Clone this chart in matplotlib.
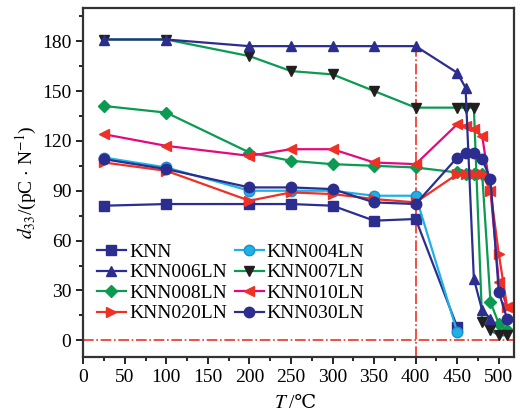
import matplotlib
matplotlib.use('Agg')
import matplotlib.pyplot as plt
from matplotlib.ticker import MultipleLocator

plt.rcParams['font.family'] = ['Liberation Serif', 'DejaVu Serif', 'Noto Sans CJK SC']
plt.rcParams['mathtext.fontset'] = 'stix'

# temperature (C) and d33 (pC/N) per composition
t_knn = [25, 100, 200, 250, 300, 350, 400, 450]
d_knn = [81, 82, 82, 82, 81, 72, 73, 8]

t_004 = [25, 100, 200, 250, 300, 350, 400, 450]
d_004 = [110, 104, 90, 90, 90, 87, 87, 5]

t_006 = [25, 100, 200, 250, 300, 350, 400, 450, 460, 470, 480, 490]
d_006 = [181, 181, 177, 177, 177, 177, 177, 161, 152, 37, 18, 13]

t_007 = [25, 100, 200, 250, 300, 350, 400, 450, 460, 470, 480, 490, 500, 510]
d_007 = [181, 181, 171, 162, 160, 150, 140, 140, 140, 140, 11, 6, 3, 3]

t_008 = [25, 100, 200, 250, 300, 350, 400, 450, 460, 470, 480, 490, 500, 510]
d_008 = [141, 137, 113, 108, 106, 105, 104, 101, 100, 100, 100, 23, 10, 6]

t_010 = [25, 100, 200, 250, 300, 350, 400, 450, 460, 470, 480, 490, 500, 510]
d_010 = [124, 117, 111, 115, 115, 107, 106, 130, 129, 127, 123, 90, 35, 20]

t_020 = [25, 100, 200, 250, 300, 350, 400, 450, 460, 470, 480, 490, 500, 510]
d_020 = [107, 102, 84, 89, 88, 85, 83, 100, 100, 100, 100, 90, 52, 20]

t_030 = [25, 100, 200, 250, 300, 350, 400, 450, 460, 470, 480, 490, 500, 510]
d_030 = [109, 103, 92, 92, 91, 83, 82, 110, 113, 113, 109, 97, 29, 13]

navy = '#2b2e8e'
cyan = '#1fb1e6'
green = '#0a9a52'
pink = '#e5097f'
red = '#ee3124'

fig = plt.figure(figsize=(5.2, 4.17), dpi=100)
ax = fig.add_axes([0.16, 0.144, 0.828, 0.837])

ax.axhline(0, color=red, ls='-.', lw=1.2)
ax.plot([400, 400], [-10, 177], color=red, ls='-.', lw=1.2)

kw = dict(lw=1.6, ms=7.5)
h_knn, = ax.plot(t_knn, d_knn, '-s', color=navy, label='KNN', **kw)
h_004, = ax.plot(t_004, d_004, '-o', color=cyan, mfc=cyan, mec='#1a8fd0', label='KNN004LN', **kw)
h_008, = ax.plot(t_008, d_008, '-D', color=green, label='KNN008LN', lw=1.6, ms=6.5)
h_007, = ax.plot(t_007, d_007, '-v', color=green, mfc='#231f20', mec='#231f20', label='KNN007LN', **kw)
h_010, = ax.plot(t_010, d_010, '-<', color=pink, mfc=red, mec=red, label='KNN010LN', **kw)
h_020, = ax.plot(t_020, d_020, '->', color=red, label='KNN020LN', **kw)
h_030, = ax.plot(t_030, d_030, '-o', color=navy, label='KNN030LN', **kw)
h_006, = ax.plot(t_006, d_006, '-^', color=navy, mfc=navy, mec=navy, label='KNN006LN', **kw)

handles = [h_knn, h_006, h_008, h_020, h_004, h_007, h_010, h_030]
ax.legend(handles=handles, labels=[h.get_label() for h in handles], ncol=2,
          loc='lower left', bbox_to_anchor=(0.0, 0.06), frameon=False,
          fontsize=14, handlelength=1.5, handletextpad=0.15, columnspacing=0.4,
          labelspacing=0.15, borderaxespad=0.3)

ax.set_xlim(0, 518)
ax.set_ylim(-10, 200)
ax.xaxis.set_major_locator(MultipleLocator(50))
ax.xaxis.set_minor_locator(MultipleLocator(25))
ax.yaxis.set_major_locator(MultipleLocator(30))
ax.yaxis.set_minor_locator(MultipleLocator(15))
ax.set_yticks([0, 30, 60, 90, 120, 150, 180])
ax.tick_params(which='both', direction='out', top=False, right=False, labelsize=14, width=1.2)
ax.tick_params(which='major', length=5)
ax.tick_params(which='minor', length=3)
for s in ax.spines.values():
    s.set_linewidth(1.6)
    s.set_color('#333333')

# x label: italic T plus degree sign from a font that has it
fig.text(0.555, 0.012, r'$T$', fontsize=14, ha='right', va='bottom')
fig.text(0.555, 0.012, '/℃', fontsize=14, ha='left', va='bottom')
ax.set_ylabel(r'$d_{33}$/(pC $\cdot$ N$^{-1}$)', fontsize=14, labelpad=2)

fig.savefig('out.png', dpi=100)
